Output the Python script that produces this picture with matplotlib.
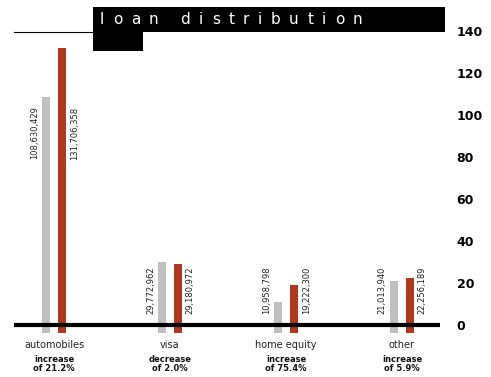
import matplotlib.pyplot as plt
from matplotlib.patches import Rectangle
from matplotlib.lines import Line2D

# data (millions of dollars)
categories = ['automobiles', 'visa', 'home equity', 'other']
prev_year = [108.630429, 29.772962, 10.958798, 21.013940]
this_year = [131.706358, 29.180972, 19.222300, 22.256189]
prev_labels = ['108,630,429', '29,772,962', '10,958,798', '21,013,940']
this_labels = ['131,706,358', '29,180,972', '19,222,300', '22,256,189']
change_text = ['increase\nof 21.2%', 'decrease\nof 2.0%', 'increase\nof 75.4%', 'increase\nof 5.9%']
label_top = [104, 28, 28, 28]
yticks = [0, 20, 40, 60, 80, 100, 120, 140]
title = 'loan distribution'

W, H = 491, 377
gray = '#c0c0c0'
red = '#b03a20'

fig = plt.figure(figsize=(W / 100, H / 100), dpi=100)

def fx(px):
    return px / W

def fy(py):
    return 1 - py / H

# axes: x from 14 to 440 px, y from 10 to 335.5 px
ax = fig.add_axes([fx(14), fy(335.5), fx(440) - fx(14), fy(10) - fy(335.5)])
ax.set_xlim(-0.345, 3.328)
ax.set_ylim(-5, 150)
for s in ax.spines.values():
    s.set_visible(False)
ax.set_xticks([])
ax.yaxis.tick_right()
ax.set_yticks(yticks)
ax.set_yticklabels([str(t) for t in yticks], fontsize=9, fontweight='bold')
ax.tick_params(axis='y', length=0, pad=12)

off = 0.069
w = 0.069
base = -4
for i in range(len(categories)):
    ax.bar(i - off, prev_year[i] - base, bottom=base, width=w, color=gray, zorder=2)
    ax.bar(i + off, this_year[i] - base, bottom=base, width=w, color=red, zorder=2)
    ax.text(i - off - 0.1, label_top[i], prev_labels[i], rotation=90, ha='center', va='top',
            fontsize=6, color='#222222')
    ax.text(i + off + 0.105, label_top[i], this_labels[i], rotation=90, ha='center', va='top',
            fontsize=6, color='#222222')
    ax.text(i, -7.0, categories[i], ha='center', va='top', fontsize=7, color='#222222',
            clip_on=False)
    ax.text(i, -14.5, change_text[i], ha='center', va='top', fontsize=6, fontweight='bold',
            linespacing=0.95, color='#111111', clip_on=False)

ax.axhline(0, color='black', linewidth=3, zorder=3)

# title block
fig.add_artist(Rectangle((fx(93), fy(32)), fx(445) - fx(93), fy(7) - fy(32),
                         transform=fig.transFigure, color='black', lw=0))
fig.add_artist(Rectangle((fx(93), fy(51)), fx(143) - fx(93), fy(32) - fy(51),
                         transform=fig.transFigure, color='black', lw=0))
fig.add_artist(Line2D([fx(14), fx(93)], [fy(31.5), fy(31.5)], transform=fig.transFigure,
                      color='black', lw=0.8))

# letter-spaced title, one glyph at a time
renderer = fig.canvas.get_renderer()
x = 100
track = 8.6
for ch in title:
    t = fig.text(fx(x), fy(19.5), ch, color='white', fontsize=11, ha='left', va='center')
    x += t.get_window_extent(renderer).width + track

fig.savefig('out.png', dpi=100)
